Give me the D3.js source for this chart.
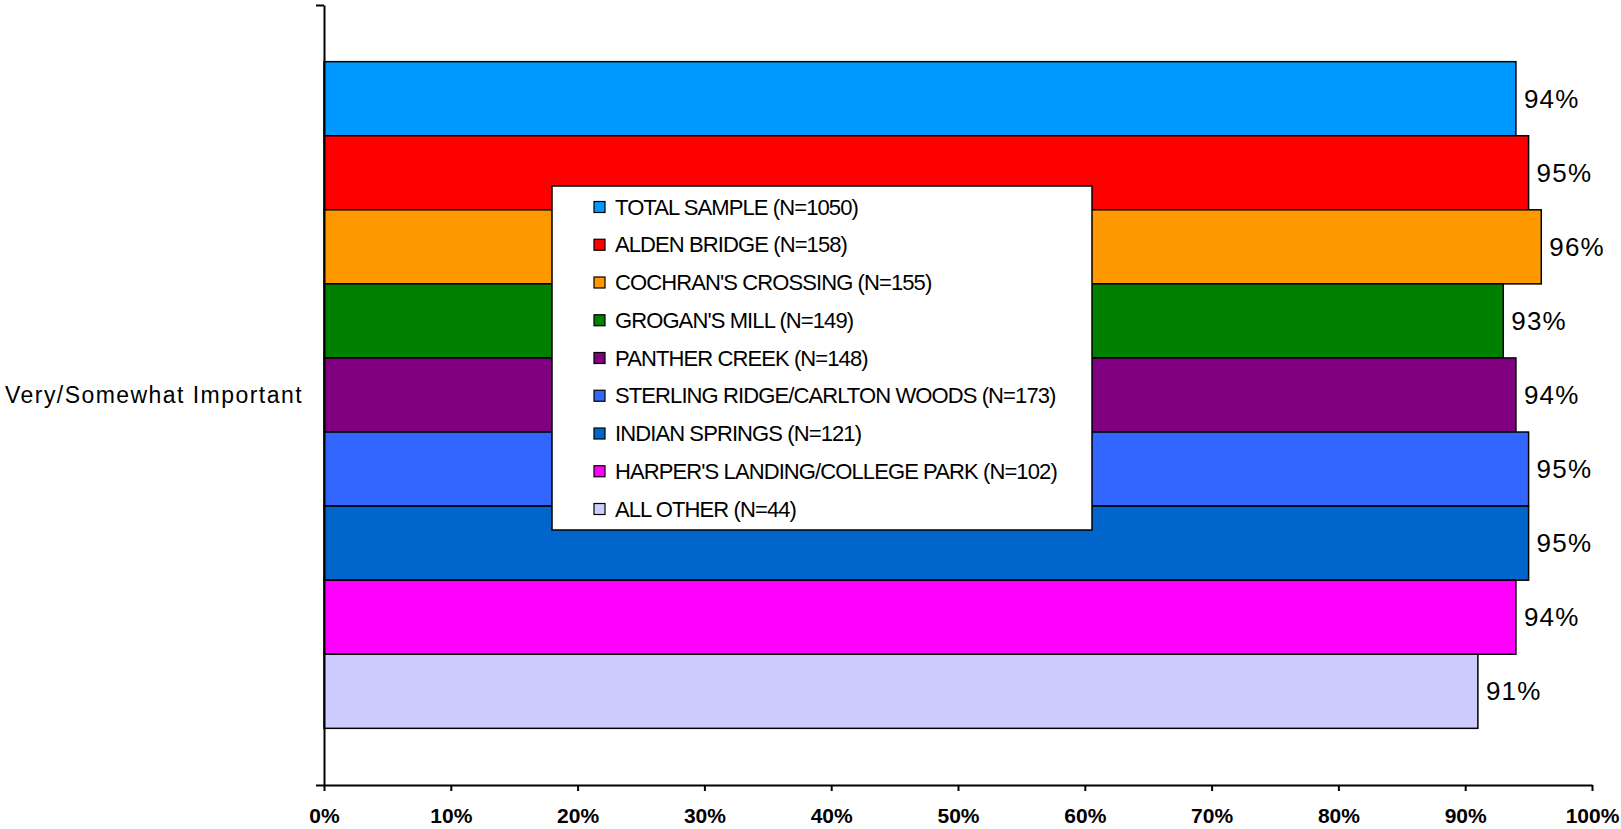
<!DOCTYPE html>
<html>
<head>
<meta charset="utf-8">
<script src="https://cdn.jsdelivr.net/npm/d3@7"></script>
<style>
    body { margin: 0; background: #fff; }
    svg { display: block; font-family: "Liberation Sans", Arial, sans-serif; }
</style>
</head>
<body>
<svg id="chart" width="1621" height="829"></svg>
<script>
const categories = ["Very/Somewhat Important"]
const seriesNames = [
    "TOTAL SAMPLE (N=1050)",
    "ALDEN BRIDGE (N=158)",
    "COCHRAN'S CROSSING (N=155)",
    "GROGAN'S MILL (N=149)",
    "PANTHER CREEK (N=148)",
    "STERLING RIDGE/CARLTON WOODS (N=173)",
    "INDIAN SPRINGS (N=121)",
    "HARPER'S LANDING/COLLEGE PARK (N=102)",
    "ALL OTHER (N=44)"
]
const seriesValues = [94, 95, 96, 93, 94, 95, 95, 94, 91]
const seriesColors = ["#0099FF", "#FF0000", "#FF9900", "#008000", "#800080", "#3366FF", "#0066CC", "#FF00FF", "#CCCCFF"]
const xTicks = [0, 10, 20, 30, 40, 50, 60, 70, 80, 90, 100]

const svg = d3.select("#chart")
const margins = { left: 324, right: 29, top: 5, bottom: 44 }
const svgWidth = 1621
const svgHeight = 829
const plotWidth = svgWidth - margins.left - margins.right
const plotHeight = svgHeight - margins.top - margins.bottom

const xScale = d3.scaleLinear()
    .domain([0, 100])
    .range([0, plotWidth])
const yScale = d3.scaleBand()
    .domain(categories)
    .range([0, plotHeight])
    .paddingInner(0)
    .paddingOuter(0.085)
const seriesScale = d3.scaleBand()
    .domain(seriesNames)
    .range([0, yScale.bandwidth()])

const plot = svg.append("g")
    .attr("transform", `translate(${margins.left},${margins.top})`)

// bars
categories.forEach((cat) => {
    plot.selectAll(".bar")
        .data(seriesValues)
        .enter()
        .append("rect")
        .attr("class", "bar")
        .attr("x", 0)
        .attr("y", (d, i) => yScale(cat) + seriesScale(seriesNames[i]))
        .attr("width", (d) => xScale(d))
        .attr("height", seriesScale.bandwidth())
        .attr("fill", (d, i) => seriesColors[i])
        .attr("stroke", "#000")
        .attr("stroke-width", 1.5)

    plot.selectAll(".value")
        .data(seriesValues)
        .enter()
        .append("text")
        .attr("class", "value")
        .attr("x", (d) => xScale(d) + 8)
        .attr("y", (d, i) => yScale(cat) + seriesScale(seriesNames[i]) + seriesScale.bandwidth() / 2)
        .attr("dominant-baseline", "central")
        .attr("font-size", 26)
        .attr("letter-spacing", 1.2)
        .attr("fill", "#000")
        .text((d) => d + "%")

    plot.append("text")
        .attr("x", -21)
        .attr("y", yScale(cat) + yScale.bandwidth() / 2)
        .attr("text-anchor", "end")
        .attr("dominant-baseline", "central")
        .attr("font-size", 23)
        .attr("letter-spacing", 1.45)
        .text(cat)
})

// x axis
const xAxis = plot.append("g")
    .attr("transform", `translate(0,${plotHeight})`)
    .call(d3.axisBottom(xScale)
        .tickValues(xTicks)
        .tickSize(6)
        .tickSizeOuter(0)
        .tickPadding(17)
        .tickFormat((d) => d + "%"))
xAxis.select(".domain").attr("stroke", "#000").attr("stroke-width", 2)
xAxis.selectAll(".tick line").attr("stroke", "#000").attr("stroke-width", 2)
xAxis.selectAll(".tick text")
    .attr("font-size", 21)
    .attr("font-weight", "bold")
    .attr("font-family", "Liberation Sans, Arial, sans-serif")
    .attr("fill", "#000")

// y axis: category boundaries only
const yEdge = d3.scaleLinear().domain([0, 1]).range([plotHeight, 0])
const yAxis = plot.append("g")
    .call(d3.axisLeft(yEdge)
        .tickValues([0, 1])
        .tickSize(8)
        .tickSizeOuter(0)
        .tickFormat(""))
yAxis.select(".domain").attr("stroke", "#000").attr("stroke-width", 2)
yAxis.selectAll(".tick line").attr("stroke", "#000").attr("stroke-width", 2)

// legend
const legend = svg.append("g")
    .attr("transform", "translate(552,186)")
legend.append("rect")
    .attr("width", 540)
    .attr("height", 344)
    .attr("fill", "#fff")
    .attr("stroke", "#000")
    .attr("stroke-width", 1.5)
const rowStep = 37.75
const rows = legend.selectAll(".legend-row")
    .data(seriesNames)
    .enter()
    .append("g")
    .attr("class", "legend-row")
    .attr("transform", (d, i) => `translate(42,${21 + i * rowStep})`)
rows.append("rect")
    .attr("x", 0)
    .attr("y", -5.5)
    .attr("width", 11)
    .attr("height", 11)
    .attr("fill", (d, i) => seriesColors[i])
    .attr("stroke", "#000")
    .attr("stroke-width", 1.2)
rows.append("text")
    .attr("x", 21)
    .attr("y", 0)
    .attr("dominant-baseline", "central")
    .attr("font-size", 22)
    .attr("letter-spacing", -0.9)
    .text((d) => d)
</script>
</body>
</html>
